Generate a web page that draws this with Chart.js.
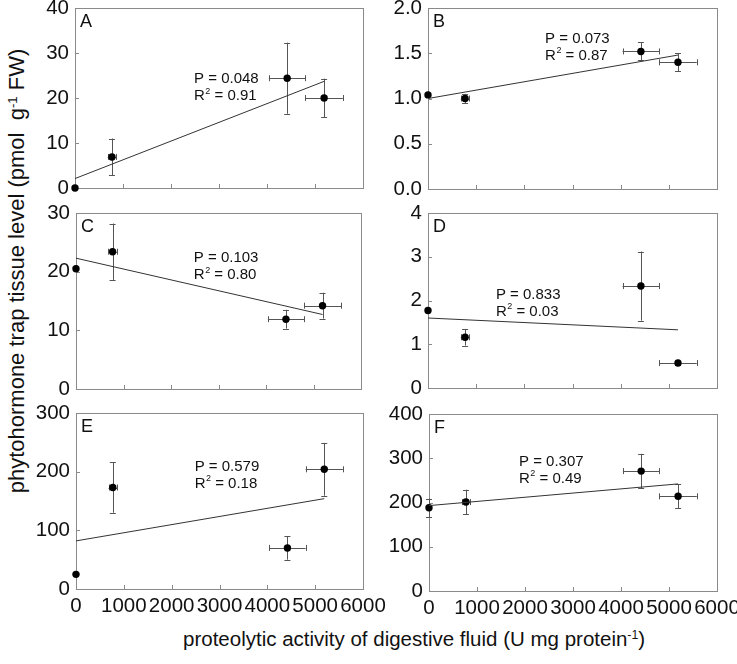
<!DOCTYPE html>
<html>
<head>
<meta charset="utf-8">
<script src="https://cdn.jsdelivr.net/npm/chart.js@4.4.1/dist/chart.umd.min.js"></script>
<style>
  html, body { margin: 0; padding: 0; background: #fff; overflow: hidden; }
  body { width: 737px; height: 664px; position: relative; font-family: "Liberation Sans", Arial, sans-serif; }
  canvas { position: absolute; }
  .ttl { position: absolute; color: #111; white-space: nowrap; line-height: 24px; }
  .ttl sup { font-size: 60%; vertical-align: 0.55em; line-height: 0; }
  #yTitle { font-size: 22px; width: 480px; height: 24px; left: -223px; top: 259px; text-align: center; transform: rotate(-90deg); }
  #xTitle { font-size: 20.5px; left: 183px; top: 627px; }
</style>
</head>
<body>
<div class="ttl" id="yTitle">phytohormone trap tissue level (pmol&nbsp; g<sup>-1</sup> FW)</div>
<div class="ttl" id="xTitle">proteolytic activity of digestive fluid (U mg protein<sup>-1</sup>)</div>
<script>
(function () {

  // proteolytic activity (x) shared by all panels
  var activity = [0, 770, 4420, 5190];
  var activityErr = [0, 90, 380, 390];
  var fitX = [0, 5190];

  // phytohormone levels per panel
  var levelA = [0, 6.9, 24.4, 20.0];
  var errA = [0, 4.1, 7.9, 4.3];
  var fitA = [2.1, 23.7];

  var levelB = [1.04, 1.00, 1.52, 1.40];
  var errB = [0, 0.05, 0.10, 0.10];
  var fitB = [1.00, 1.48];

  var levelC = [20.5, 23.4, 11.9, 14.2];
  var errC = [0, 4.8, 1.6, 2.2];
  var fitC = [22.3, 12.7];

  var levelD = [1.77, 1.16, 2.33, 0.57];
  var errD = [0, 0.19, 0.79, 0.05];
  var fitD = [1.60, 1.33];

  var levelE = [25, 173, 70, 204];
  var errE = [0, 43, 20, 45];
  var fitE = [82, 154];

  var levelF = [188, 201, 271, 214];
  var errF = [21, 28, 39, 27];
  var fitF = [193, 242];

  var panelLetters = ['A', 'B', 'C', 'D', 'E', 'F'];
  var pValues = ['0.048', '0.073', '0.103', '0.833', '0.579', '0.307'];
  var r2Values = ['0.91', '0.87', '0.80', '0.03', '0.18', '0.49'];
  var yMax = [40, 2, 30, 4, 300, 400];
  var yStep = [10, 0.5, 10, 1, 100, 100];
  var yDecimals = [0, 1, 0, 0, 0, 0];

  // layout: plot boxes [left, top, right, bottom] and annotation anchor (data coords)
  var boxes = [
    [75, 8, 363, 188], [428, 8, 717, 189],
    [76, 213, 361, 389], [428, 213, 717, 388],
    [76, 413, 363, 589], [429, 414, 717, 591]
  ];
  var annotAt = [[2480, 24.2], [2430, 1.66], [2480, 22.3], [1410, 2.13], [2480, 208], [1875, 292]];

  var levels = [levelA, levelB, levelC, levelD, levelE, levelF];
  var errs = [errA, errB, errC, errD, errE, errF];
  var fits = [fitA, fitB, fitC, fitD, fitE, fitF];

  var FONT = '"Liberation Sans", Arial, sans-serif';
  var FRAME = '#8a8a8a';
  var ERR = '#555';

  function crisp(v) { return Math.round(v) + 0.5; }

  var decorPlugin = {
    id: 'decor',
    beforeDatasetsDraw: function (chart) {
      var ctx = chart.ctx, a = chart.chartArea;
      var xs = chart.scales.x, ys = chart.scales.y;
      var cfg = chart.options.plugins.decor;
      ctx.save();
      // frame
      ctx.strokeStyle = FRAME;
      ctx.lineWidth = 1;
      ctx.strokeRect(crisp(a.left), crisp(a.top), Math.round(a.right - a.left), Math.round(a.bottom - a.top));
      // inward tick marks
      ctx.beginPath();
      xs.ticks.forEach(function (t) {
        if (t.value <= xs.min || t.value >= xs.max) return;
        var px = crisp(xs.getPixelForValue(t.value));
        ctx.moveTo(px, a.bottom);
        ctx.lineTo(px, a.bottom - 4);
      });
      ys.ticks.forEach(function (t) {
        if (t.value <= ys.min || t.value >= ys.max) return;
        var py = crisp(ys.getPixelForValue(t.value));
        ctx.moveTo(a.left, py);
        ctx.lineTo(a.left + 4, py);
      });
      ctx.stroke();
      // error bars
      ctx.strokeStyle = ERR;
      ctx.beginPath();
      cfg.y.forEach(function (v, i) {
        var px = xs.getPixelForValue(activity[i]);
        var py = ys.getPixelForValue(v);
        if (cfg.err[i] > 0) {
          var y1 = ys.getPixelForValue(v - cfg.err[i]);
          var y2 = ys.getPixelForValue(v + cfg.err[i]);
          ctx.moveTo(crisp(px), y1); ctx.lineTo(crisp(px), y2);
          ctx.moveTo(px - 3, crisp(y1)); ctx.lineTo(px + 3, crisp(y1));
          ctx.moveTo(px - 3, crisp(y2)); ctx.lineTo(px + 3, crisp(y2));
        }
        if (activityErr[i] > 0) {
          var x1 = xs.getPixelForValue(activity[i] - activityErr[i]);
          var x2 = xs.getPixelForValue(activity[i] + activityErr[i]);
          ctx.moveTo(x1, crisp(py)); ctx.lineTo(x2, crisp(py));
          ctx.moveTo(crisp(x1), py - 3); ctx.lineTo(crisp(x1), py + 3);
          ctx.moveTo(crisp(x2), py - 3); ctx.lineTo(crisp(x2), py + 3);
        }
      });
      ctx.stroke();
      ctx.restore();
    },
    afterDraw: function (chart) {
      var ctx = chart.ctx, a = chart.chartArea;
      var xs = chart.scales.x, ys = chart.scales.y;
      var cfg = chart.options.plugins.decor;
      ctx.save();
      ctx.fillStyle = '#111';
      ctx.textBaseline = 'top';
      ctx.font = '18px ' + FONT;
      ctx.fillText(cfg.letter, a.left + 5, a.top + 5);

      ctx.textBaseline = 'middle';
      var tx = xs.getPixelForValue(cfg.annot[0]);
      var ty = ys.getPixelForValue(cfg.annot[1]);
      ctx.font = '15px ' + FONT;
      ctx.fillText('P = ' + cfg.p, tx, ty);
      var ry = ty + 17;
      ctx.fillText('R', tx, ry);
      var w = ctx.measureText('R').width;
      ctx.font = '9px ' + FONT;
      ctx.fillText('2', tx + w + 0.5, ry - 5);
      var w2 = ctx.measureText('2').width;
      ctx.font = '15px ' + FONT;
      ctx.fillText(' = ' + cfg.r2, tx + w + w2 + 0.5, ry);
      ctx.restore();
    }
  };

  panelLetters.forEach(function (letter, i) {
    var b = boxes[i];
    var bottomRow = i >= 4;
    var yW = 70, xH = bottomRow ? 50 : 30, padTop = 30, padRight = 40;
    var left = b[0] - yW, top = b[1] - padTop;
    var width = b[2] + padRight - left, height = b[3] + xH - top;

    var canvas = document.createElement('canvas');
    canvas.width = width; canvas.height = height;
    canvas.style.left = left + 'px'; canvas.style.top = top + 'px';
    canvas.style.width = width + 'px'; canvas.style.height = height + 'px';
    document.body.appendChild(canvas);

    var pts = levels[i].map(function (v, k) { return { x: activity[k], y: v }; });
    var line = fits[i].map(function (v, k) { return { x: fitX[k], y: v }; });
    var dec = yDecimals[i];

    new Chart(canvas.getContext('2d'), {
      type: 'scatter',
      data: {
        datasets: [
          { type: 'line', data: line, borderColor: '#333', borderWidth: 1, pointRadius: 0, fill: false, clip: false },
          { data: pts, pointRadius: 3.7, backgroundColor: '#000', borderColor: '#000', borderWidth: 0, clip: false }
        ]
      },
      options: {
        responsive: false,
        animation: false,
        devicePixelRatio: 1,
        layout: { padding: { top: padTop, right: padRight, left: 0, bottom: 0 } },
        plugins: {
          legend: { display: false },
          tooltip: { enabled: false },
          decor: { letter: letter, y: levels[i], err: errs[i], p: pValues[i], r2: r2Values[i], annot: annotAt[i] }
        },
        scales: {
          x: {
            type: 'linear', min: 0, max: 6000,
            grid: { display: false, drawTicks: false },
            border: { display: false },
            ticks: {
              display: bottomRow, stepSize: 1000, padding: 5, color: '#111', maxRotation: 0, autoSkip: false,
              font: { family: FONT, size: 20.5 },
              callback: function (v) { return String(v); }
            },
            afterFit: function (s) { s.height = xH; }
          },
          y: {
            min: 0, max: yMax[i],
            grid: { display: false, drawTicks: false },
            border: { display: false },
            ticks: {
              stepSize: yStep[i], padding: 6, color: '#111', font: { family: FONT, size: 20.5 },
              callback: function (v) { return Number(v).toFixed(dec); }
            },
            afterFit: function (s) { s.width = yW; }
          }
        }
      },
      plugins: [decorPlugin]
    });
  });
})();
</script>
</body>
</html>
